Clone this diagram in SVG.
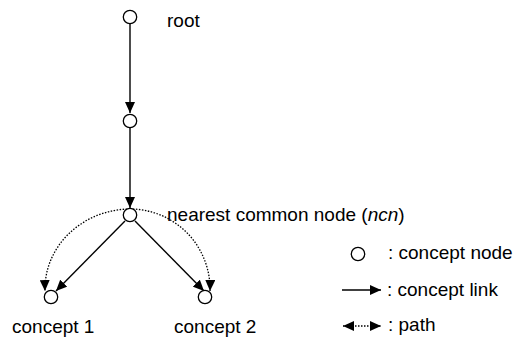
<svg xmlns="http://www.w3.org/2000/svg" width="516" height="338" viewBox="0 0 516 338">
<style>
  .node { fill: #fff; stroke: #000; stroke-width: 1.3; }
  .link { stroke: #000; stroke-width: 1.4; fill: none; marker-end: url(#ah); }
  .path { stroke: #000; stroke-width: 1.3; fill: none; stroke-dasharray: 1.5 1.5; marker-end: url(#ah); }
  text { font-family: "Liberation Sans", Arial, sans-serif; font-size: 19px; fill: #000; }
</style>
<defs>
  <marker id="ah" markerUnits="userSpaceOnUse" markerWidth="12" markerHeight="10" refX="11" refY="5" orient="auto-start-reverse">
    <path d="M0,0 L11,5 L0,10 z" fill="#000"/>
  </marker>
</defs>
<rect width="516" height="338" fill="#fff"/>
<g id="connectors">
  <line class="link" x1="130" y1="24" x2="130" y2="113"/>
  <line class="link" x1="130" y1="128" x2="130" y2="208"/>
  <line class="link" x1="125" y1="221" x2="56" y2="291"/>
  <line class="link" x1="135" y1="221" x2="204" y2="291"/>
  <path class="path" d="M130,209 A 86 80 0 0 0 45,291"/>
  <path class="path" d="M130,209 A 80 80 0 0 1 210,291"/>
</g>
<g id="root"><circle class="node" cx="130" cy="17" r="6.7"/><text x="167" y="27">root</text></g>
<g id="mid"><circle class="node" cx="130" cy="121" r="6.7"/></g>
<g id="ncn"><circle class="node" cx="130" cy="215" r="6.7"/><text x="167" y="221">nearest common node (<tspan font-style="italic">ncn</tspan>)</text></g>
<g id="concept1"><circle class="node" cx="51" cy="297" r="6.7"/><text x="12" y="333">concept 1</text></g>
<g id="concept2"><circle class="node" cx="205" cy="297" r="6.7"/><text x="174" y="333">concept 2</text></g>
<g id="legend">
  <circle class="node" cx="358" cy="254" r="6.7"/>
  <text x="388" y="259">: concept node</text>
  <line x1="342" y1="290" x2="381" y2="290" stroke="#000" stroke-width="1.4" marker-end="url(#ah)"/>
  <text x="387" y="296">: concept link</text>
  <line x1="343" y1="326" x2="381" y2="326" stroke="#000" stroke-width="1.3" stroke-dasharray="1.5 1.5" marker-start="url(#ah)" marker-end="url(#ah)"/>
  <text x="388" y="331">: path</text>
</g>
</svg>
